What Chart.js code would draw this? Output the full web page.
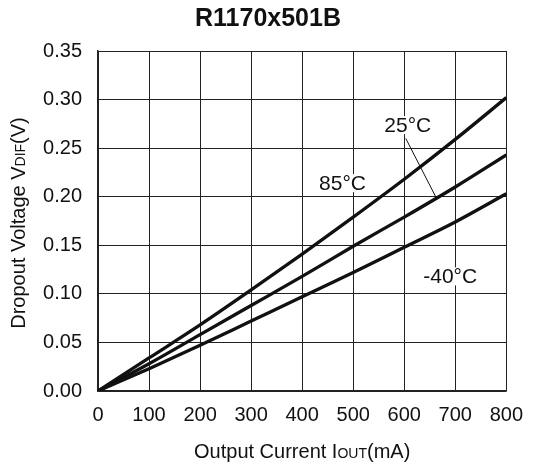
<!DOCTYPE html>
<html>
<head>
<meta charset="utf-8">
<script src="https://cdn.jsdelivr.net/npm/chart.js@4/dist/chart.umd.min.js"></script>
<style>
  body { margin: 0; background: #fff; }
  #wrap { width: 535px; height: 466px; }
</style>
</head>
<body>
<div id="wrap"><canvas id="dropChart" width="535" height="466"></canvas></div>
<script>
// === Data ===
const currents = [0, 100, 200, 300, 400, 500, 600, 700, 800];
const v85 = [0, 0.034, 0.068, 0.104, 0.141, 0.179, 0.218, 0.259, 0.302];
const v25 = [0, 0.028, 0.058, 0.088, 0.118, 0.149, 0.179, 0.210, 0.243];
const vm40 = [0, 0.023, 0.047, 0.072, 0.097, 0.122, 0.148, 0.174, 0.203];
const seriesNames = ['85°C', '25°C', '-40°C'];

// label anchors in data units (x mA, y V)
const labelSpots = [
  { text: '25°C', x: 607, y: 0.2737 },
  { text: '85°C', x: 479, y: 0.214 },
  { text: '-40°C', x: 690, y: 0.118 }
];
const leader = [{ x: 603, y: 0.260 }, { x: 661, y: 0.2006 }];

const FONT = 'Arial, "Liberation Sans", sans-serif';
const toPoints = arr => arr.map((v, i) => ({ x: currents[i], y: v }));

const lineStyle = {
  borderColor: '#111',
  borderWidth: 3.3,
  pointRadius: 0,
  fill: false,
  cubicInterpolationMode: 'monotone'
};

// === Text drawn on top: title, axis titles with small caps, curve labels ===
const textPlugin = {
  id: 'textPlugin',
  afterDraw(chart) {
    const c = chart.ctx;
    const xs = chart.scales.x, ys = chart.scales.y;
    c.save();
    c.fillStyle = '#111';
    c.textBaseline = 'middle';

    // title
    c.font = 'bold 25px ' + FONT;
    c.textAlign = 'center';
    c.fillText('R1170x501B', 268, 19);

    // mixed size text helper
    const drawParts = (parts, cx, cy) => {
      let w = 0;
      parts.forEach(p => { c.font = p[1] + 'px ' + FONT; w += c.measureText(p[0]).width; });
      let x = cx - w / 2;
      c.textAlign = 'left';
      c.textBaseline = 'alphabetic';
      parts.forEach(p => {
        c.font = p[1] + 'px ' + FONT;
        c.fillText(p[0], x, cy + 7);
        x += c.measureText(p[0]).width;
      });
    };

    drawParts([['Output Current I', 20], ['OUT', 14], ['(mA)', 20]], (xs.left + xs.right) / 2, 451);

    c.save();
    c.translate(18, (ys.top + ys.bottom) / 2 + 2);
    c.rotate(-Math.PI / 2);
    drawParts([['Dropout Voltage V', 20], ['DIF', 14], ['(V)', 20]], 0, 0);
    c.restore();

    // leader line for 25°C
    c.strokeStyle = '#111';
    c.lineWidth = 1;
    c.beginPath();
    c.moveTo(xs.getPixelForValue(leader[0].x), ys.getPixelForValue(leader[0].y));
    c.lineTo(xs.getPixelForValue(leader[1].x), ys.getPixelForValue(leader[1].y));
    c.stroke();

    // curve labels with white backing
    c.font = '21px ' + FONT;
    c.textAlign = 'center';
    c.textBaseline = 'middle';
    labelSpots.forEach(l => {
      const px = xs.getPixelForValue(l.x), py = ys.getPixelForValue(l.y);
      const w = c.measureText(l.text).width;
      c.fillStyle = '#fff';
      c.fillRect(px - w / 2 - 1, py - 9, w + 2, 18);
      c.fillStyle = '#111';
      c.fillText(l.text, px, py + 1);
    });
    c.restore();
  }
};

const ctx = document.getElementById('dropChart').getContext('2d');
const dropChart = new Chart(ctx, {
  type: 'line',
  data: {
    datasets: [
      { label: seriesNames[0], data: toPoints(v85), ...lineStyle },
      { label: seriesNames[1], data: toPoints(v25), ...lineStyle },
      { label: seriesNames[2], data: toPoints(vm40), ...lineStyle }
    ]
  },
  options: {
    responsive: false,
    animation: false,
    layout: { padding: { left: 0, top: 51, right: 23, bottom: 0 } },
    plugins: {
      legend: { display: false },
      tooltip: { enabled: false },
      title: { display: false }
    },
    scales: {
      x: {
        type: 'linear',
        min: 0,
        max: 800,
        afterFit: s => { s.height = 75; },
        ticks: {
          stepSize: 100,
          color: '#111',
          padding: 12,
          maxRotation: 0,
          font: { family: FONT, size: 20 }
        },
        grid: { color: '#222', lineWidth: 1, drawTicks: false },
        border: { color: '#222', width: 1.5 }
      },
      y: {
        min: 0,
        max: 0.35,
        afterFit: s => { s.width = 98; },
        ticks: {
          stepSize: 0.05,
          color: '#111',
          padding: 16,
          font: { family: FONT, size: 20 },
          callback: v => v.toFixed(2)
        },
        grid: { color: '#222', lineWidth: 1, drawTicks: false },
        border: { color: '#222', width: 1.5 }
      }
    }
  },
  plugins: [textPlugin]
});
</script>
</body>
</html>
